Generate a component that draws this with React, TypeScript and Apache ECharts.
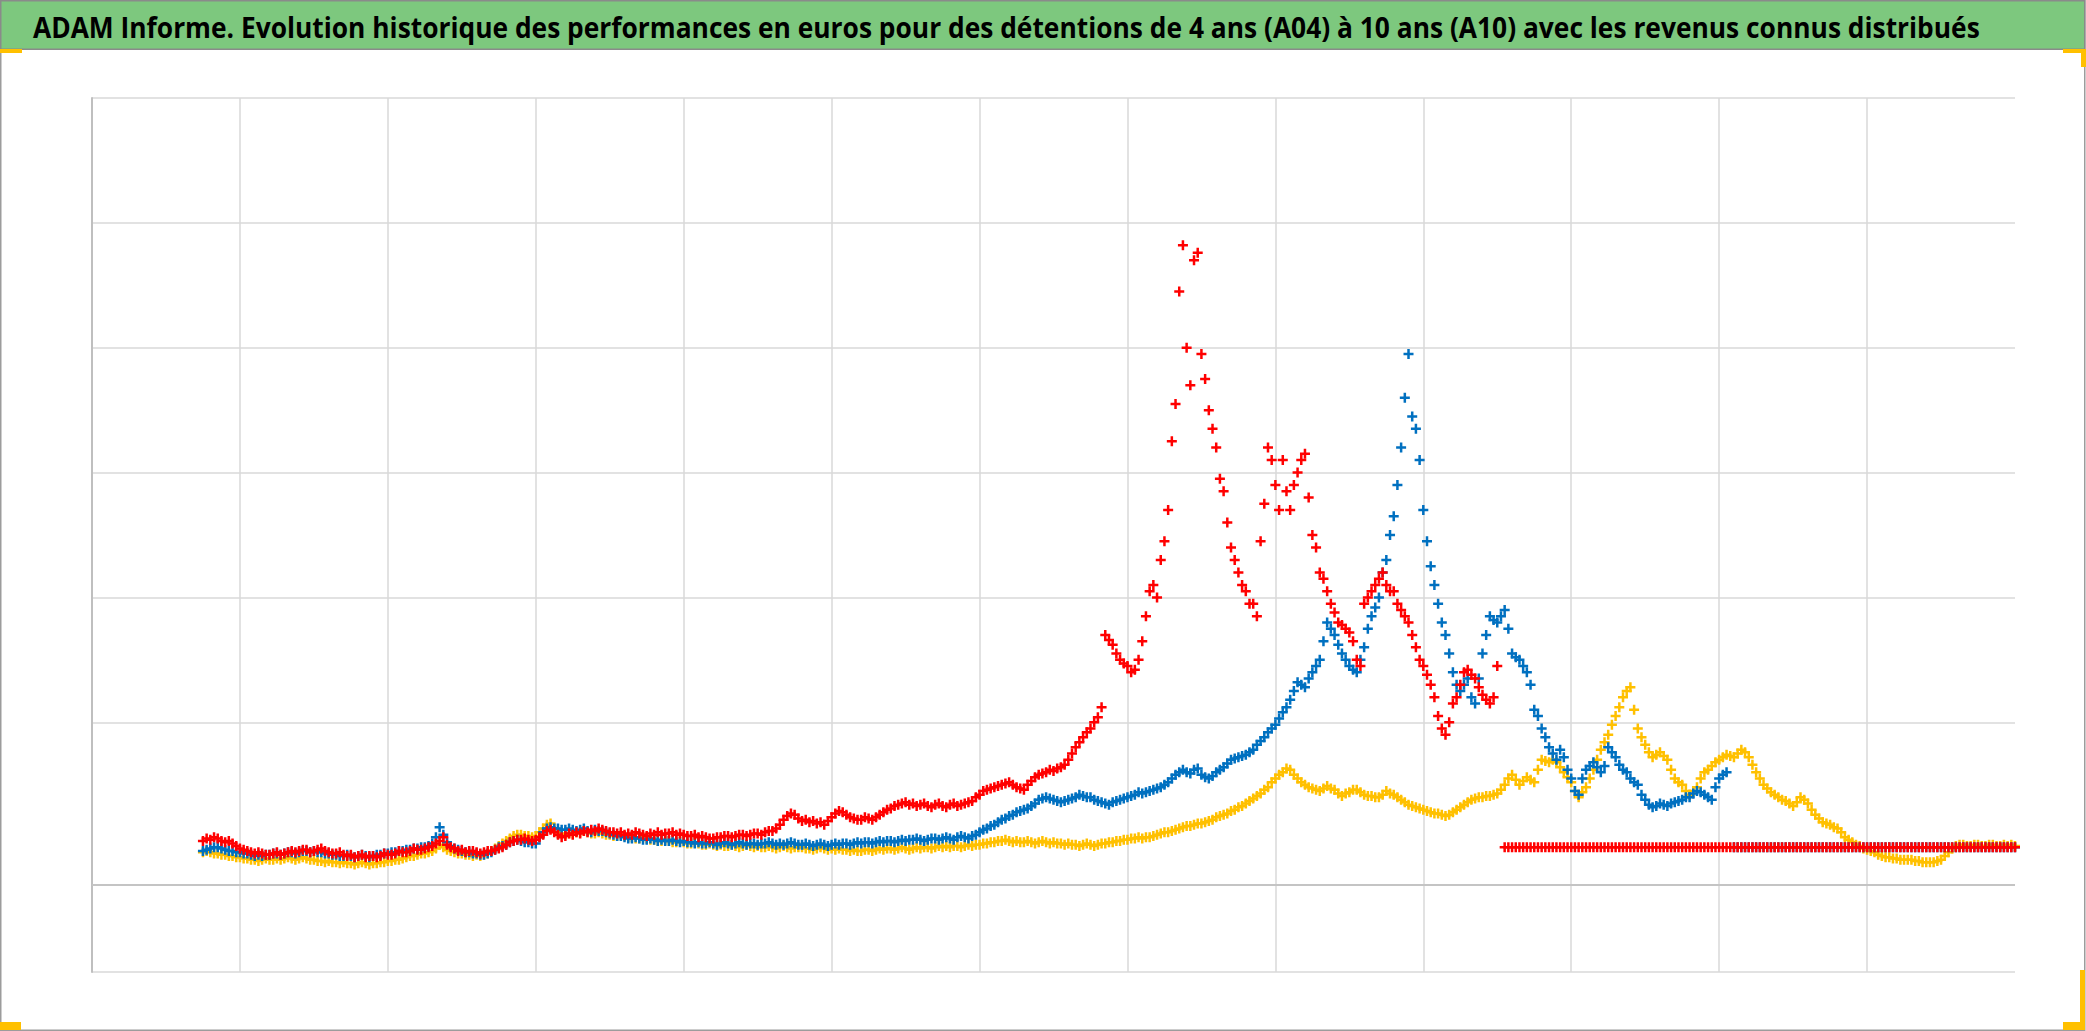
import React, { useEffect, useRef } from "react";
import * as echarts from "echarts";

const TITLE =
  "ADAM Informe. Evolution historique des performances en euros pour des détentions de 4 ans (A04) à 10 ans (A10) avec les revenus connus distribués";

// x values: regular sampling (axis units, one vertical gridline per unit)
const X_START = 0.75;
const X_STEP = 0.025;
const RED_TAIL_START = 9.55;
const BLUE_TAIL_START = 11.1;

const X_MIN = 0;
const X_MAX = 13;
const Y_MIN = 0;
const Y_MAX = 7;
const AXIS_CROSS = 0.7;

const YELLOW = [
  0.96, 0.97, 0.96, 0.95, 0.95, 0.94, 0.94, 0.93, 0.93, 0.92, 0.92, 0.91, 0.91, 0.9, 0.9, 0.89, 0.9, 0.91, 0.9, 0.9,
  0.91, 0.9, 0.91, 0.92, 0.91, 0.9, 0.91, 0.92, 0.91, 0.9, 0.9, 0.89, 0.89, 0.88, 0.89, 0.88, 0.88, 0.87, 0.88, 0.87,
  0.87, 0.86, 0.87, 0.88, 0.87, 0.86, 0.87, 0.87, 0.88, 0.88, 0.89, 0.89, 0.9, 0.9, 0.91, 0.92, 0.93, 0.93, 0.94, 0.95,
  0.95, 0.96, 0.97, 0.99, 1.02, 1.0, 0.98, 0.97, 0.96, 0.95, 0.95, 0.94, 0.94, 0.93, 0.94, 0.93, 0.94, 0.95, 0.97, 0.99,
  1.01, 1.03, 1.05, 1.07, 1.09, 1.1, 1.1, 1.09, 1.09, 1.08, 1.09, 1.12, 1.15, 1.18, 1.19, 1.15, 1.12, 1.11, 1.1, 1.11,
  1.11, 1.12, 1.12, 1.13, 1.12, 1.11, 1.11, 1.12, 1.11, 1.1, 1.1, 1.09, 1.09, 1.1, 1.09, 1.08, 1.08, 1.07, 1.07, 1.08,
  1.07, 1.06, 1.06, 1.05, 1.05, 1.06, 1.05, 1.04, 1.04, 1.05, 1.04, 1.03, 1.03, 1.04, 1.03, 1.02, 1.02, 1.03, 1.02, 1.01,
  1.02, 1.01, 1.01, 1.02, 1.01, 1.0, 1.01, 1.02, 1.01, 1.0, 1.01, 1.0, 1.0, 1.01, 1.0, 0.99, 1.0, 1.01, 1.0, 0.99,
  1.0, 1.0, 1.0, 0.99, 0.99, 0.98, 0.99, 1.0, 0.99, 0.98, 0.99, 0.98, 0.99, 0.98, 0.98, 0.97, 0.98, 0.97, 0.97, 0.98,
  0.98, 0.97, 0.98, 0.99, 0.98, 0.99, 0.99, 0.98, 0.99, 1.0, 0.99, 0.98, 0.99, 1.0, 0.99, 1.0, 1.0, 0.99, 1.0, 1.01,
  1.0, 1.01, 1.0, 1.01, 1.01, 1.0, 1.01, 1.02, 1.01, 1.02, 1.02, 1.03, 1.03, 1.04, 1.04, 1.05, 1.05, 1.06, 1.05, 1.04,
  1.05, 1.04, 1.04, 1.05, 1.04, 1.03, 1.04, 1.05, 1.04, 1.03, 1.04, 1.03, 1.03, 1.02, 1.03, 1.02, 1.02, 1.01, 1.02, 1.03,
  1.02, 1.01, 1.02, 1.03, 1.03, 1.04, 1.04, 1.05, 1.05, 1.06, 1.06, 1.07, 1.07, 1.08, 1.07, 1.08, 1.08, 1.09, 1.1, 1.11,
  1.12, 1.12, 1.13, 1.14, 1.15, 1.16, 1.17, 1.17, 1.18, 1.19, 1.19, 1.2, 1.21, 1.22, 1.24, 1.25, 1.26, 1.27, 1.29, 1.3,
  1.32, 1.33, 1.35, 1.37, 1.39, 1.41, 1.43, 1.46, 1.48, 1.52, 1.55, 1.58, 1.6, 1.63, 1.62, 1.58, 1.55, 1.52, 1.5, 1.48,
  1.47, 1.46, 1.45, 1.47, 1.49, 1.47, 1.46, 1.43, 1.41, 1.43, 1.44, 1.46, 1.46, 1.44, 1.42, 1.41, 1.41, 1.4, 1.4, 1.42,
  1.45, 1.43, 1.42, 1.4, 1.38, 1.36, 1.34, 1.33, 1.32, 1.31, 1.3, 1.29, 1.28, 1.27, 1.27, 1.26, 1.25, 1.26, 1.28, 1.3,
  1.32, 1.34, 1.36, 1.38, 1.39, 1.4, 1.4, 1.41, 1.41, 1.42, 1.43, 1.46, 1.5, 1.55, 1.58, 1.54, 1.5, 1.53, 1.56, 1.54,
  1.52, 1.62, 1.7, 1.69, 1.68, 1.7, 1.68, 1.64, 1.6, 1.56, 1.52, 1.45, 1.4, 1.44, 1.48, 1.55, 1.62, 1.7, 1.78, 1.84,
  1.9, 1.98, 2.05, 2.12, 2.2, 2.25, 2.28, 2.1, 1.95, 1.88, 1.82, 1.76, 1.72, 1.74, 1.76, 1.73, 1.7, 1.62, 1.55, 1.52,
  1.5, 1.45, 1.42, 1.45, 1.48, 1.55, 1.6, 1.62, 1.65, 1.68, 1.7, 1.72, 1.74, 1.73, 1.72, 1.75, 1.78, 1.76, 1.72, 1.66,
  1.6, 1.55, 1.5, 1.47, 1.44, 1.42, 1.4, 1.38, 1.37, 1.35, 1.33, 1.36, 1.4, 1.38, 1.35, 1.3, 1.26, 1.23, 1.2, 1.19,
  1.18, 1.16, 1.15, 1.12, 1.08, 1.06, 1.04, 1.02, 1.01, 0.99, 0.98, 0.97, 0.96, 0.94, 0.93, 0.92, 0.92, 0.91, 0.91, 0.9,
  0.9, 0.9, 0.9, 0.89, 0.89, 0.88, 0.88, 0.88, 0.88, 0.89, 0.9, 0.93, 0.96, 0.99, 1.01, 1.02, 1.02, 1.01, 1.01, 1.02,
  1.02, 1.01, 1.01, 1.02, 1.02, 1.01, 1.01, 1.02, 1.01, 1.02, 1.01,
];

const BLUE = [
  0.97, 0.98, 0.99, 1.0, 1.0, 0.99, 0.98, 0.97, 0.97, 0.96, 0.96, 0.95, 0.95, 0.94, 0.93, 0.94, 0.93, 0.94, 0.94, 0.95,
  0.95, 0.94, 0.95, 0.96, 0.96, 0.95, 0.96, 0.97, 0.97, 0.96, 0.97, 0.96, 0.96, 0.95, 0.95, 0.94, 0.94, 0.93, 0.93, 0.94,
  0.93, 0.92, 0.93, 0.94, 0.93, 0.92, 0.93, 0.94, 0.94, 0.95, 0.95, 0.96, 0.96, 0.97, 0.97, 0.98, 0.98, 0.99, 0.99, 1.0,
  1.0, 1.01, 1.03, 1.08, 1.16, 1.1, 1.04, 1.01, 0.99, 0.98, 0.97, 0.96, 0.96, 0.95, 0.95, 0.94, 0.94, 0.95, 0.96, 0.98,
  1.0, 1.01, 1.02, 1.04, 1.05, 1.06, 1.05, 1.04, 1.04, 1.03, 1.03, 1.08, 1.12, 1.15, 1.16, 1.15, 1.15, 1.14, 1.14, 1.15,
  1.14, 1.13, 1.14, 1.15, 1.13, 1.12, 1.14, 1.13, 1.13, 1.12, 1.11, 1.1, 1.09, 1.09, 1.08, 1.07, 1.07, 1.08, 1.07, 1.06,
  1.06, 1.07, 1.06, 1.05, 1.06, 1.05, 1.05, 1.06, 1.05, 1.04, 1.05, 1.04, 1.04, 1.03, 1.04, 1.03, 1.03, 1.04, 1.03, 1.02,
  1.03, 1.04, 1.03, 1.02, 1.03, 1.04, 1.03, 1.02, 1.03, 1.03, 1.02, 1.03, 1.03, 1.04, 1.03, 1.02, 1.03, 1.02, 1.03, 1.04,
  1.03, 1.02, 1.02, 1.03, 1.02, 1.01, 1.02, 1.03, 1.02, 1.01, 1.02, 1.03, 1.02, 1.03, 1.03, 1.02, 1.03, 1.04, 1.03, 1.04,
  1.04, 1.03, 1.04, 1.05, 1.04, 1.05, 1.05, 1.04, 1.05, 1.06, 1.05, 1.06, 1.06, 1.07, 1.06, 1.05, 1.06, 1.07, 1.07, 1.06,
  1.07, 1.08, 1.07, 1.06, 1.08, 1.09, 1.08, 1.07, 1.09, 1.1, 1.12, 1.14, 1.15, 1.17, 1.18, 1.2, 1.22, 1.23, 1.25, 1.26,
  1.28, 1.29, 1.3, 1.31, 1.33, 1.35, 1.38, 1.39, 1.4, 1.39, 1.38, 1.37, 1.36, 1.37, 1.38, 1.39, 1.4, 1.42, 1.41, 1.4,
  1.4, 1.38, 1.37, 1.36, 1.35, 1.34, 1.36, 1.37, 1.38, 1.39, 1.4, 1.41, 1.42, 1.44, 1.43, 1.44, 1.45, 1.46, 1.47, 1.48,
  1.5, 1.52, 1.55, 1.58, 1.6, 1.62, 1.6, 1.59, 1.62, 1.63, 1.58, 1.56, 1.55, 1.57, 1.6, 1.62, 1.64, 1.67, 1.7, 1.71,
  1.72, 1.73, 1.74, 1.76, 1.78, 1.82, 1.85, 1.88, 1.92, 1.95, 1.98, 2.03, 2.08, 2.12, 2.18, 2.25, 2.32, 2.3, 2.28, 2.35,
  2.4, 2.45, 2.5, 2.65, 2.8, 2.75, 2.7, 2.62, 2.55, 2.5, 2.45, 2.42, 2.4, 2.5, 2.6, 2.75, 2.85, 2.92, 3.0, 3.2,
  3.3, 3.5, 3.65, 3.9, 4.2, 4.6, 4.95, 4.45, 4.35, 4.1, 3.7, 3.45, 3.25, 3.1, 2.95, 2.8, 2.7, 2.55, 2.4, 2.3,
  2.25, 2.3, 2.35, 2.2, 2.15, 2.35, 2.55, 2.7, 2.85, 2.82, 2.8, 2.85, 2.9, 2.75, 2.55, 2.52, 2.5, 2.45, 2.4, 2.3,
  2.1, 2.05, 1.95, 1.88, 1.8, 1.75, 1.7, 1.78, 1.72, 1.62, 1.55, 1.45, 1.42, 1.55, 1.62, 1.65, 1.68, 1.64, 1.6, 1.65,
  1.8, 1.76, 1.72, 1.66, 1.62, 1.6, 1.55, 1.52, 1.5, 1.42, 1.38, 1.34, 1.32, 1.33, 1.35, 1.34, 1.33, 1.35, 1.36, 1.37,
  1.38, 1.4, 1.4, 1.43, 1.45, 1.44, 1.42, 1.4, 1.38, 1.48, 1.55, 1.58, 1.6,
];

const RED = [
  1.05, 1.07, 1.06, 1.08, 1.07, 1.05, 1.04, 1.05, 1.03, 1.01, 0.99, 0.98, 0.97, 0.96, 0.95, 0.96, 0.95, 0.94, 0.94, 0.95,
  0.96, 0.94, 0.95, 0.96, 0.97, 0.96, 0.97, 0.98, 0.98, 0.96, 0.97, 0.98, 0.99, 0.97, 0.96, 0.95, 0.95, 0.96, 0.94, 0.93,
  0.94, 0.92, 0.93, 0.94, 0.92, 0.93, 0.93, 0.92, 0.93, 0.95, 0.94, 0.94, 0.95, 0.97, 0.96, 0.96, 0.97, 0.99, 0.98, 0.98,
  0.99, 1.0, 1.01, 1.03, 1.05, 1.08, 1.02, 1.0, 0.99, 0.97, 0.98, 0.96, 0.97, 0.97, 0.96, 0.95, 0.96, 0.97, 0.97, 0.98,
  0.99, 1.0, 1.02, 1.04, 1.05, 1.06, 1.06, 1.07, 1.06, 1.05, 1.06, 1.08, 1.1, 1.13, 1.14, 1.12, 1.1, 1.08, 1.09, 1.11,
  1.1, 1.12, 1.11, 1.13, 1.12, 1.14, 1.13, 1.15, 1.14, 1.13, 1.12, 1.12, 1.11, 1.12, 1.1, 1.11, 1.1, 1.12, 1.11, 1.1,
  1.09, 1.11, 1.1, 1.12, 1.1, 1.11, 1.11, 1.12, 1.1, 1.11, 1.1, 1.09, 1.09, 1.1, 1.08, 1.09, 1.08, 1.07, 1.07, 1.08,
  1.08, 1.09, 1.09, 1.08, 1.09, 1.1, 1.1, 1.09, 1.1, 1.11, 1.11, 1.1, 1.12, 1.13, 1.13, 1.15, 1.18, 1.22, 1.25, 1.27,
  1.26, 1.23, 1.21, 1.22, 1.2, 1.21, 1.19, 1.2, 1.18, 1.21, 1.24, 1.27, 1.29, 1.28, 1.26, 1.24, 1.23, 1.22, 1.22, 1.24,
  1.23, 1.22, 1.24, 1.26, 1.28, 1.3, 1.31, 1.33, 1.34, 1.35, 1.36, 1.34, 1.35, 1.33, 1.34, 1.35, 1.33, 1.32, 1.34, 1.35,
  1.33, 1.32, 1.34, 1.35, 1.33, 1.34, 1.35, 1.36, 1.37, 1.4, 1.42, 1.45, 1.46, 1.47, 1.48, 1.49, 1.5, 1.51, 1.52, 1.5,
  1.48, 1.47, 1.46, 1.5, 1.53, 1.56, 1.58, 1.59, 1.6, 1.62, 1.61, 1.63, 1.64, 1.66, 1.7, 1.75, 1.8, 1.84, 1.88, 1.92,
  1.95, 2.0, 2.04, 2.12, 2.7, 2.66, 2.62, 2.55, 2.5, 2.47, 2.45, 2.4, 2.42, 2.5, 2.65, 2.85, 3.05, 3.1, 3.0, 3.3,
  3.45, 3.7, 4.25, 4.55, 5.45, 5.82, 5.0, 4.7, 5.7, 5.76, 4.95, 4.75, 4.5, 4.35, 4.2, 3.95, 3.85, 3.6, 3.4, 3.3,
  3.2, 3.1, 3.05, 2.95, 2.95, 2.85, 3.45, 3.75, 4.2, 4.1, 3.9, 3.7, 4.1, 3.85, 3.7, 3.9, 4.0, 4.1, 4.15, 3.8,
  3.5, 3.4, 3.2, 3.15, 3.05, 2.95, 2.88, 2.8, 2.78, 2.75, 2.72, 2.65, 2.5, 2.45, 2.95, 3.0, 3.05, 3.1, 3.15, 3.2,
  3.1, 3.05, 3.05, 2.95, 2.9, 2.85, 2.8, 2.7, 2.6, 2.5, 2.45, 2.38, 2.3, 2.2, 2.05, 1.95, 1.9, 2.0, 2.15, 2.2,
  2.3, 2.4, 2.42, 2.38, 2.35, 2.28, 2.22, 2.18, 2.15, 2.2, 2.45,
];

const BLUE_TAIL = [
  1, 1, 1, 1, 1, 1, 1, 1, 1, 1, 1, 1, 1, 1, 1, 1, 1, 1, 1, 1,
  1, 1, 1, 1, 1, 1, 1, 1, 1, 1, 1, 1, 1, 1, 1, 1, 1, 1, 1, 1,
  1, 1, 1, 1, 1, 1, 1, 1, 1, 1, 1, 1, 1, 1, 1, 1, 1, 1, 1, 1,
  1, 1, 1, 1, 1, 1, 1, 1, 1, 1, 1, 1, 1, 1, 1, 1, 1,
];

const RED_TAIL = [
  1, 1, 1, 1, 1, 1, 1, 1, 1, 1, 1, 1, 1, 1, 1, 1, 1, 1, 1, 1,
  1, 1, 1, 1, 1, 1, 1, 1, 1, 1, 1, 1, 1, 1, 1, 1, 1, 1, 1, 1,
  1, 1, 1, 1, 1, 1, 1, 1, 1, 1, 1, 1, 1, 1, 1, 1, 1, 1, 1, 1,
  1, 1, 1, 1, 1, 1, 1, 1, 1, 1, 1, 1, 1, 1, 1, 1, 1, 1, 1, 1,
  1, 1, 1, 1, 1, 1, 1, 1, 1, 1, 1, 1, 1, 1, 1, 1, 1, 1, 1, 1,
  1, 1, 1, 1, 1, 1, 1, 1, 1, 1, 1, 1, 1, 1, 1, 1, 1, 1, 1, 1,
  1, 1, 1, 1, 1, 1, 1, 1, 1, 1, 1, 1, 1, 1, 1, 1, 1, 1, 1,
];

const PLUS = "path://M3,0H5V3H8V5H5V8H3V5H0V3H3Z";

function toPoints(values: number[], start: number): number[][] {
  return values.map((v, i) => [Math.round((start + i * X_STEP) * 10000) / 10000, v]);
}

function titleScale(): number {
  try {
    const ctx = document.createElement("canvas").getContext("2d");
    if (!ctx) return 0.9;
    ctx.font = 'bold 29px "Open Sans"';
    const w = ctx.measureText(TITLE).width;
    return w > 0 ? 1948 / w : 0.9;
  } catch (e) {
    return 0.9;
  }
}

export default function App() {
  const ref = useRef<HTMLDivElement>(null);

  useEffect(() => {
    if (!ref.current) return;
    const chart = echarts.init(ref.current, undefined, { renderer: "svg" });
    const sx = titleScale();

    const ySplitColors: string[] = [];
    for (let v = Y_MIN; v <= Y_MAX; v++) {
      ySplitColors.push(v === 1 ? "rgba(0,0,0,0)" : "#d9d9d9");
    }

    const markerBase = {
      type: "scatter",
      symbol: PLUS,
      symbolSize: 10,
      silent: true,
    };

    const option: any = {
      animation: false,
      backgroundColor: "#ffffff",
      grid: { left: 92, top: 98, width: 1923, height: 874 },
      xAxis: {
        type: "value",
        min: X_MIN,
        max: X_MAX,
        interval: 1,
        axisLabel: { show: false },
        axisTick: { show: false },
        axisLine: { show: false },
        splitLine: {
          show: true,
          showMaxLine: false,
          lineStyle: { color: "#d9d9d9", width: 1.5 },
        },
      },
      yAxis: {
        type: "value",
        min: Y_MIN,
        max: Y_MAX,
        interval: 1,
        axisLabel: { show: false },
        axisTick: { show: false },
        axisLine: { show: true, lineStyle: { color: "#bfbfbf", width: 2 } },
        splitLine: { show: true, lineStyle: { color: ySplitColors, width: 1.5 } },
      },
      series: [
        {
          ...markerBase,
          name: "A10",
          data: toPoints(YELLOW, X_START),
          itemStyle: { color: "#ffc000", opacity: 1 },
          z: 2,
          markLine: {
            silent: true,
            symbol: ["none", "none"],
            label: { show: false },
            lineStyle: { color: "#c4c4c4", width: 2, type: "solid" },
            data: [{ yAxis: AXIS_CROSS }],
          },
        },
        {
          ...markerBase,
          name: "Bleu",
          data: toPoints(BLUE, X_START).concat(toPoints(BLUE_TAIL, BLUE_TAIL_START)),
          itemStyle: { color: "#0070c0", opacity: 1 },
          z: 3,
        },
        {
          ...markerBase,
          name: "A04",
          data: toPoints(RED, X_START).concat(toPoints(RED_TAIL, RED_TAIL_START)),
          itemStyle: { color: "#ff0000", opacity: 1 },
          z: 4,
        },
      ],
      graphic: [
        {
          type: "rect",
          silent: true,
          shape: { x: 0.75, y: 0.75, width: 2084, height: 1029.5 },
          style: { fill: "none", stroke: "#9c9c9c", lineWidth: 1.5 },
        },
        {
          type: "rect",
          silent: true,
          shape: { x: 0.75, y: 0.75, width: 2084, height: 48.5 },
          style: { fill: "#7dc87e", stroke: "#8a8a8a", lineWidth: 1.5 },
        },
        {
          type: "text",
          silent: true,
          x: 33,
          y: 26,
          scaleX: sx,
          style: {
            text: TITLE,
            fontFamily: "Open Sans",
            fontWeight: "bold",
            fontSize: 29,
            fill: "#000000",
            align: "left",
            verticalAlign: "middle",
          },
        },
        { type: "rect", silent: true, shape: { x: 0, y: 49, width: 22, height: 4 }, style: { fill: "#ffc000" } },
        { type: "rect", silent: true, shape: { x: 2063, y: 49, width: 23, height: 4 }, style: { fill: "#ffc000" } },
        { type: "rect", silent: true, shape: { x: 2081, y: 49, width: 5, height: 18 }, style: { fill: "#ffc000" } },
        { type: "rect", silent: true, shape: { x: 0, y: 1022, width: 21, height: 8 }, style: { fill: "#ffc000" } },
        { type: "rect", silent: true, shape: { x: 2080, y: 970, width: 5, height: 60 }, style: { fill: "#ffc000" } },
        { type: "rect", silent: true, shape: { x: 2063, y: 1022, width: 22, height: 8 }, style: { fill: "#ffc000" } },
      ],
    };

    chart.setOption(option);
    return () => {
      chart.dispose();
    };
  }, []);

  return (
    <div
      ref={ref}
      style={{
        position: "fixed",
        left: 0,
        top: 0,
        width: 2086,
        height: 1031,
        background: "#ffffff",
      }}
    />
  );
}
